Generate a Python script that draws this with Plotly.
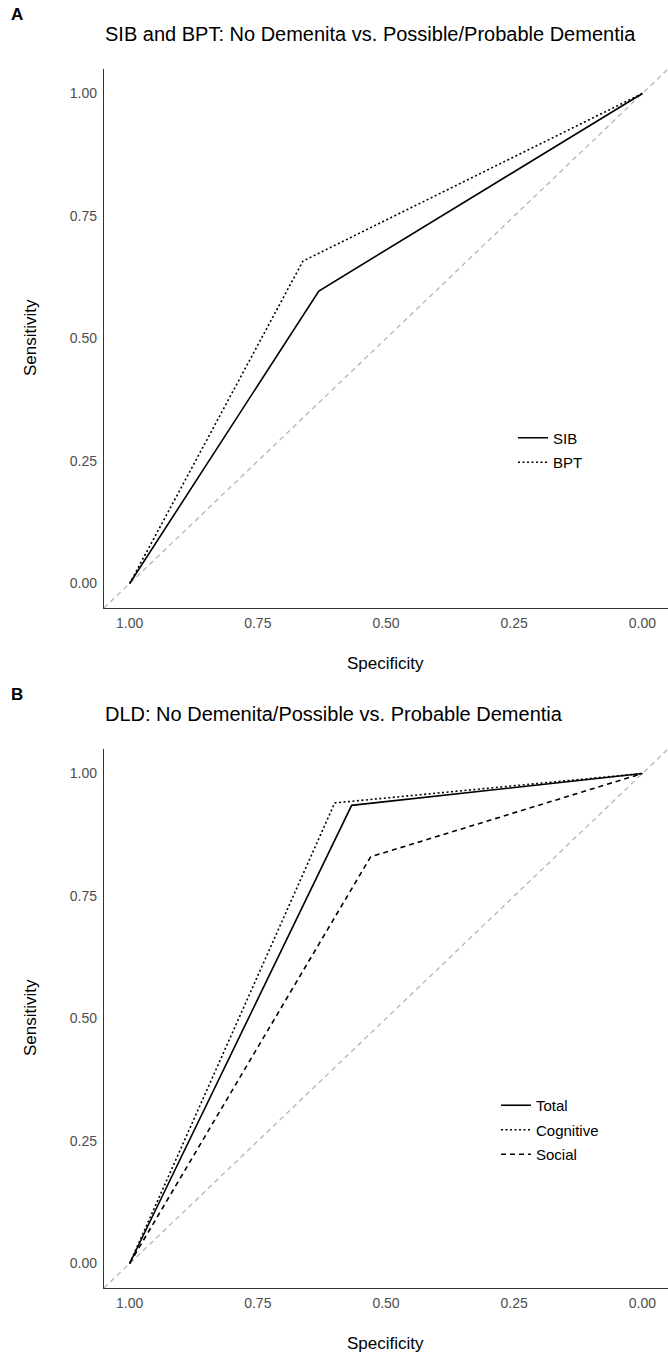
import plotly.graph_objects as go

# ---- data ----
tick_vals = [1.0, 0.75, 0.5, 0.25, 0.0]
tick_text = ["1.00", "0.75", "0.50", "0.25", "0.00"]

# Panel A
sib_spec = [1.0, 0.631, 0.0]
sib_sens = [0.0, 0.597, 1.0]
bpt_spec = [1.0, 0.662, 0.0]
bpt_sens = [0.0, 0.658, 1.0]

# Panel B
total_spec = [1.0, 0.567, 0.0]
total_sens = [0.0, 0.935, 1.0]
cog_spec = [1.0, 0.60, 0.0]
cog_sens = [0.0, 0.94, 1.0]
soc_spec = [1.0, 0.53, 0.0]
soc_sens = [0.0, 0.83, 1.0]

title_a = "SIB and BPT: No Demenita vs. Possible/Probable Dementia"
title_b = "DLD: No Demenita/Possible vs. Probable Dementia"

W, H = 668, 1357
FONT = "Liberation Sans, Arial, Helvetica, sans-serif"

def py(px):  # pixel-from-top -> paper y
    return 1 - px / H

def px_(x):
    return x / W

x_dom = [px_(104), 1.0]
ya_dom = [py(608), py(69)]
yb_dom = [py(1288), py(749)]

fig = go.Figure()

line_w = 1.6
fig.add_trace(go.Scatter(x=sib_spec, y=sib_sens, mode="lines", name="SIB",
                         line=dict(color="black", width=line_w, dash="solid"),
                         xaxis="x", yaxis="y", legend="legend", legendgroup="a1"))
fig.add_trace(go.Scatter(x=bpt_spec, y=bpt_sens, mode="lines", name="BPT",
                         line=dict(color="black", width=line_w, dash="2px,2.5px"),
                         xaxis="x", yaxis="y", legend="legend", legendgroup="a2"))

fig.add_trace(go.Scatter(x=total_spec, y=total_sens, mode="lines", name="Total",
                         line=dict(color="black", width=line_w, dash="solid"),
                         xaxis="x2", yaxis="y2", legend="legend2", legendgroup="b1"))
fig.add_trace(go.Scatter(x=cog_spec, y=cog_sens, mode="lines", name="Cognitive",
                         line=dict(color="black", width=line_w, dash="2px,2.5px"),
                         xaxis="x2", yaxis="y2", legend="legend2", legendgroup="b2"))
fig.add_trace(go.Scatter(x=soc_spec, y=soc_sens, mode="lines", name="Social",
                         line=dict(color="black", width=line_w, dash="5px,4px"),
                         xaxis="x2", yaxis="y2", legend="legend2", legendgroup="b3"))

# reference diagonals
for xr, yr in (("x", "y"), ("x2", "y2")):
    fig.add_shape(type="line", xref=xr, yref=yr, x0=1.05, y0=-0.05, x1=-0.05, y1=1.05,
                  line=dict(color="#B5B5B5", width=1.3, dash="5px,4px"), layer="below")

axis_common = dict(
    showgrid=False, zeroline=False, showline=True,
    linecolor="#333333", linewidth=1.3, ticks="",
    tickvals=tick_vals, ticktext=tick_text,
    tickfont=dict(family=FONT, size=14, color="#4D4D4D"),
)

fig.update_layout(
    width=W, height=H,
    margin=dict(l=0, r=0, t=0, b=0),
    paper_bgcolor="white", plot_bgcolor="white",
    font=dict(family=FONT, color="black"),
    xaxis=dict(axis_common, domain=x_dom, range=[1.05, -0.05], anchor="y", ticklabelstandoff=2),
    yaxis=dict(axis_common, domain=ya_dom, range=[-0.05, 1.05], anchor="x", ticklabelstandoff=3),
    xaxis2=dict(axis_common, domain=x_dom, range=[1.05, -0.05], anchor="y2", ticklabelstandoff=2),
    yaxis2=dict(axis_common, domain=yb_dom, range=[-0.05, 1.05], anchor="x2", ticklabelstandoff=3),
    legend=dict(x=px_(513), y=py(450), xanchor="left", yanchor="middle",
                font=dict(family=FONT, size=15, color="black"),
                bgcolor="rgba(0,0,0,0)", traceorder="grouped", tracegroupgap=2),
    legend2=dict(x=px_(496), y=py(1130), xanchor="left", yanchor="middle",
                 font=dict(family=FONT, size=15, color="black"),
                 bgcolor="rgba(0,0,0,0)", traceorder="grouped", tracegroupgap=2),
    showlegend=True,
)

annots = [
    dict(text="<b>A</b>", x=px_(9), y=py(14), xanchor="left", yanchor="middle", size=17),
    dict(text="<b>B</b>", x=px_(9), y=py(694), xanchor="left", yanchor="middle", size=17),
    dict(text=title_a, x=px_(103), y=py(34), xanchor="left", yanchor="middle", size=20),
    dict(text=title_b, x=px_(103), y=py(714), xanchor="left", yanchor="middle", size=20),
    dict(text="Specificity", x=px_(386), y=py(663), xanchor="center", yanchor="middle", size=17),
    dict(text="Specificity", x=px_(386), y=py(1343), xanchor="center", yanchor="middle", size=17),
    dict(text="Sensitivity", x=px_(30), y=py(338), xanchor="center", yanchor="middle", size=17, textangle=-90),
    dict(text="Sensitivity", x=px_(30), y=py(1018), xanchor="center", yanchor="middle", size=17, textangle=-90),
]
for a in annots:
    fig.add_annotation(text=a["text"], x=a["x"], y=a["y"], xref="paper", yref="paper",
                       xanchor=a["xanchor"], yanchor=a["yanchor"], showarrow=False,
                       textangle=a.get("textangle", 0),
                       font=dict(family=FONT, size=a["size"], color="black"))

fig.write_html("out.html",
               config={"displayModeBar": False},
               post_script="document.body.style.margin='0';document.body.style.overflow='hidden';")
